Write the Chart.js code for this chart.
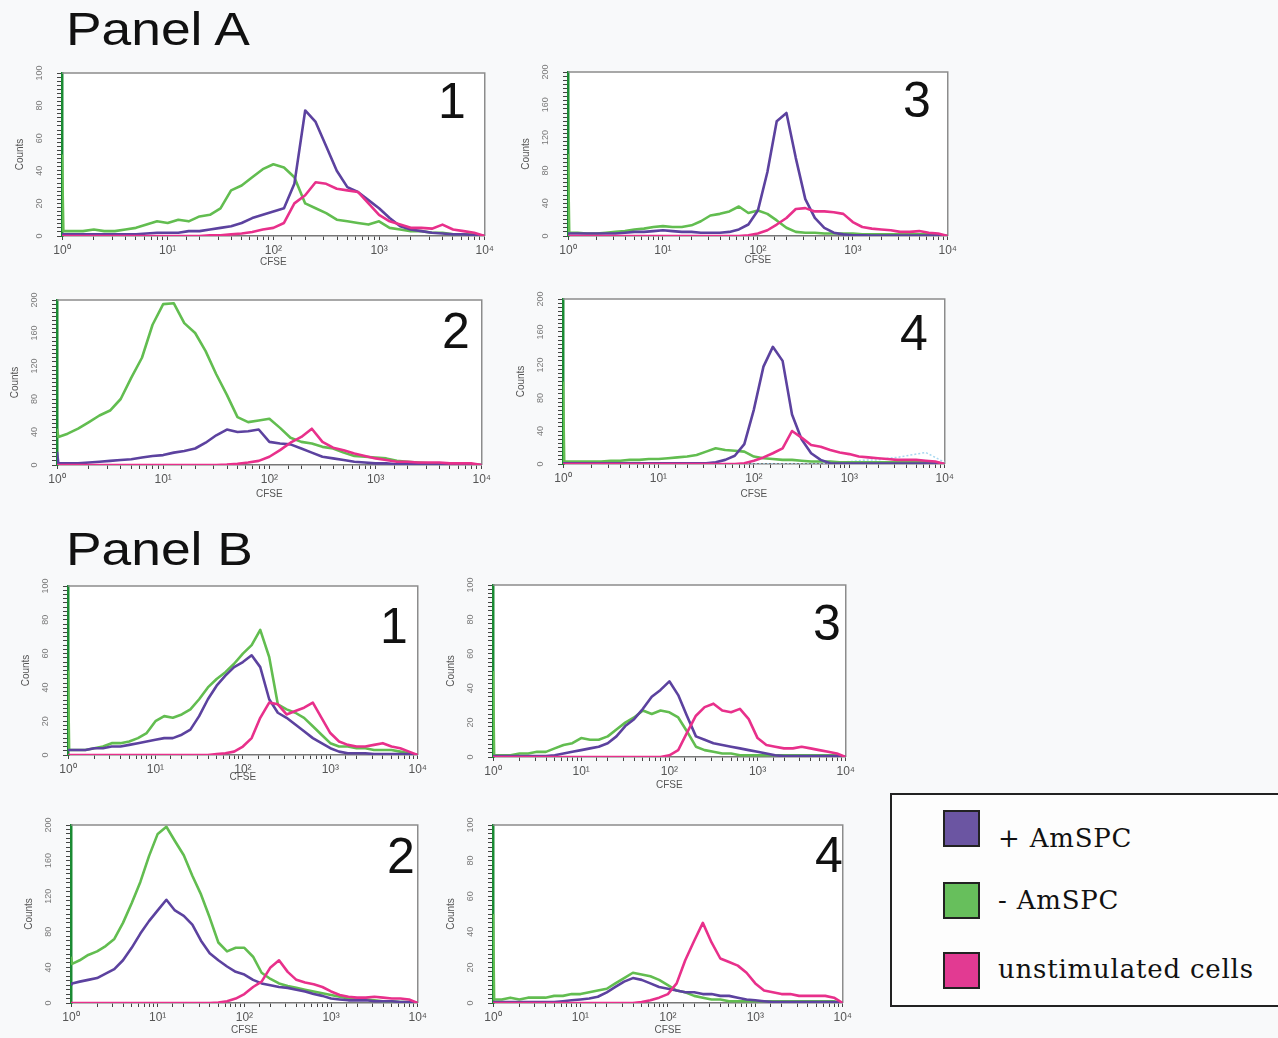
<!DOCTYPE html>
<html>
<head>
<meta charset="utf-8">
<script src="https://cdn.jsdelivr.net/npm/chart.js@4.4.1/dist/chart.umd.min.js"></script>
<style>
  body { margin: 0; width: 1278px; height: 1038px; background: #f8f9fa; position: relative; overflow: hidden;
         font-family: "Liberation Sans", Arial, sans-serif; }
  .panel-title { position: absolute; left: 66px; font-size: 46px; line-height: 46px; color: #111;
                 transform: scaleX(1.16); transform-origin: left top; }
  .plot { position: absolute; }
  .legend { position: absolute; left: 890px; top: 793px; width: 420px; height: 210px;
            border: 2px solid #222; background: #fdfdfd; }
  .legend .sw { position: absolute; left: 51px; width: 33px; height: 33px; border: 2px solid #222; }
  .legend .lb { position: absolute; left: 106px; font-family: "DejaVu Serif", serif; font-size: 26px;
                line-height: 26px; letter-spacing: 0.8px; color: #111; white-space: nowrap; }
</style>
</head>
<body>
<div class="panel-title" style="top:6px">Panel A</div>
<div class="panel-title" style="top:526px">Panel B</div>

<div class="legend">
  <div class="sw" style="top:15px;background:#6b55a2"></div><div class="lb" style="top:30px">+ AmSPC</div>
  <div class="sw" style="top:87px;background:#67bf5c"></div><div class="lb" style="top:92px">- AmSPC</div>
  <div class="sw" style="top:157px;background:#e23a92"></div><div class="lb" style="top:161px">unstimulated cells</div>
</div>

<script>
// CFSE bin positions (log axis), the first bin at 10^0 is the off-scale pile-up
const cfse = [1, 1.03,
  1.26, 1.58, 2, 2.51, 3.16, 3.98, 5.01, 6.31, 7.94, 10,
  12.6, 15.8, 20, 25.1, 31.6, 39.8, 50.1, 63.1, 79.4, 100,
  126, 158, 200, 251, 316, 398, 501, 631, 794, 1000,
  1259, 1585, 1995, 2512, 3162, 3981, 5012, 6310, 7943, 10000];
const cfseTicks = ['10\u2070', '10\u00b9', '10\u00b2', '10\u00b3', '10\u2074'];
const countTicks100 = [0, 20, 40, 60, 80, 100];
const countTicks200 = [0, 40, 80, 120, 160, 200];
const seriesNames = ['+ AmSPC', '- AmSPC', 'unstimulated cells'];

// Panel A
const a1Plus = [1, 1, 1,1,1,1,1,1,1,1.5,2,2, 2,3,3,4,5,6,8,11,13,15, 17,32,77,70,55,40,30,27,22,17, 11,6,4,3,2,1.5,1,1,0.5,0];
const a1Minus = [50, 3, 3,3,4,3,3,4,5,7,9,8, 10,9,12,13,17,28,31,36,41,44, 42,36,20,17,14,10,9,8,7,9, 5,4,3,3,2,2,1,1,1,0];
const a1Unstim = [0, 0, 0,0,0,0,0,0,0,0,0,0, 0,0,0,0.5,0.5,1,1.5,2.5,4,5, 8,20,25,33,32,29,28,27,20,13, 9,7,5,5,4.5,7,4,3,2,0];

const a2Plus = [16, 2, 2,2,3,4,5,6,7,9,11,12, 15,17,20,27,36,43,40,41,43,28, 26,25,20,15,10,8,6,4,3,2, 2,1,1,1,0.5,0.5,0.5,0.5,0.5,0];
const a2Minus = [44, 34, 38,44,52,60,66,80,106,130,170,195, 196,172,160,138,110,85,58,52,54,56, 45,33,28,26,22,20,15,11,10,9, 8,5,4,3,2,2,1,1,1,0];
const a2Unstim = [0, 0, 0,0,0,0,0,0,0,0,0,0, 0,0,0,0,0,0.5,1.5,3,5,10, 18,27,34,44,28,21,18,14,11,8, 6,4,4,3,3,3,2,2,2,0];

const a3Plus = [3, 3, 3,3,3,3,3,4,5,5,6,7, 6,5,5,4,4,4,5,8,14,31, 78,140,150,95,45,22,10,4,2,1, 1,0.5,0.5,0.5,0.5,0.5,0.5,0.5,0.5,0];
const a3Minus = [100, 4, 4,3,3,4,5,6,8,9,11,12, 11,11,13,18,25,27,30,36,28,31, 27,19,10,5,4,4,3,3,3,3, 2,2,2,2,2,2,2,2,1,0];
const a3Unstim = [0, 0, 0,0,0,0,0,0,0,0,0,0, 0,0,0,0,0,0,0,0,1,3, 7,14,22,33,34,30,30,29,27,17, 11,9,8,7,5,5,6,4,3,0];

const a4Plus = [1, 1, 1,1,1,1,1,1,1,1,1,1, 1,1,1,1,1,2,5,10,24,66, 118,142,125,60,30,13,5,1,0.5,0.5, 0.5,0.5,0.5,0.5,0.5,0.5,0.5,0.5,0.5,0];
const a4Minus = [100, 3, 3,3,3,3,4,4,5,5,6,6, 7,8,9,11,15,19,17,16,15,9, 7,6,5,5,4,3,3,3,2,2, 2,2,2,2,2,2,2,2,2,0];
const a4Unstim = [0, 0, 0,0,0,0,0,0,0,0,0,0, 0,0,0,0,0,0,0,0,1,4, 8,13,19,40,32,23,21,17,14,12, 9,8,7,6,5,5,5,4,3,0];
const a4Other = [0, 0, 0,0,0,0,0,0,0,0,0,0, 0,0,0,0,0,0,0,0,0,0, 0,0,0,0,0,0,0,0,2,3, 4,5,5,7,8,10,12,14,8,2];

// Panel B
const b1Plus = [3, 3, 3,3,4,4,5,5,6,7,8,9, 10,10,12,15,23,33,41,47,52,55, 59,52,33,25,22,18,14,10,7,4, 2,1,1,1,0.5,0.5,0.5,0.5,0.5,0];
const b1Minus = [50, 3, 3,3,4,5,7,7,8,10,13,20, 23,22,24,27,33,40,45,49,54,60, 65,74,58,30,27,25,22,17,12,7, 5,5,4,4,3,3,3,2,1,0];
const b1Unstim = [0, 0, 0,0,0,0,0,0,0,0,0,0, 0,0,0,0,0,0,0.5,1,2,5, 10,22,31,30,24,26,28,31,22,13, 8,6,5,5,6,7,5,4,2,0];

const b2Plus = [20, 22, 24,26,28,33,38,48,62,78,92,104, 116,104,98,88,70,56,48,41,35,32, 26,22,20,18,17,15,13,10,8,5, 4,3,3,3,2,2,2,1,1,0];
const b2Minus = [52, 44, 48,54,58,64,72,90,112,136,165,190, 198,182,166,143,122,96,68,58,62,62, 52,34,27,22,19,17,15,13,11,9, 7,5,4,4,3,2,2,1,1,0];
const b2Unstim = [0, 0, 0,0,0,0,0,0,0,0,0,0, 0,0,0,0,0,0,0.5,2,5,10, 18,24,40,48,35,26,23,21,18,13, 9,7,6,6,7,6,5,5,4,0];

const b3Plus = [0.5, 0.5, 0.5,0.5,0.5,0.5,0.5,0.5,1,2,3,4, 5,6,8,12,18,22,28,35,39,44, 36,24,12,10,8,7,6,5,4,3, 2,1,0.5,0.5,0.5,0.5,0.5,0.5,0.5,0];
const b3Minus = [50, 1, 1,1,2,2,3,3,5,7,8,11, 10,10,12,16,20,23,27,25,27,26, 23,15,6,4,3,2,2,1,1,1, 1,1,1,1,1,1,1,1,1,0];
const b3Unstim = [0, 0, 0,0,0,0,0,0,0,0,0,0, 0,0,0,0,0,0,0,0,0,1, 4,14,24,29,31,27,26,28,22,11, 7,6,5,5,6,5,4,3,2,0];

const b4Plus = [0.5, 0.5, 0.5,0.5,0.5,0.5,0.5,0.5,0.5,1,1.5,2, 2.5,3.5,6,9,12,14,13,11,9,8, 7,6,6,5,5,4,4,3,2,1.5, 1,0.5,0.5,0.5,0.5,0.5,0.5,0.5,0.5,0];
const b4Minus = [50, 2, 2,3,2,3,3,3,4,4,5,5, 6,7,8,11,14,17,16,15,13,10, 7,6,4,3,2,2,1,1,1,1, 1,1,1,1,1,1,1,1,1,0];
const b4Unstim = [0, 0, 0,0,0,0,0,0,0,0,0,0, 0,0,0,0,0,0,0.5,1.5,3,5, 11,24,35,45,34,25,23,21,17,11, 7,6,5,5,4,4,4,4,3,0];

const colors = { plus: '#5c429f', minus: '#62bd50', unstim: '#e8308b', other: '#a8d8f0' };

// plot boxes in page pixels, and where the decorations sit
const panels = [
  { series: [a1Plus, a1Minus, a1Unstim], max: 100, ticks: countTicks100, num: '1', L: 62,  T: 73,  R: 485, B: 236, numDx: 22, numDy: 45, cfseDy: 26 },
  { series: [a3Plus, a3Minus, a3Unstim], max: 200, ticks: countTicks200, num: '3', L: 568, T: 72,  R: 948, B: 236, numDx: 20, numDy: 45, cfseDy: 24 },
  { series: [a2Plus, a2Minus, a2Unstim], max: 200, ticks: countTicks200, num: '2', L: 57,  T: 300, R: 482, B: 465, numDx: 15, numDy: 48, cfseDy: 29 },
  { series: [a4Plus, a4Minus, a4Unstim, a4Other], max: 200, ticks: countTicks200, num: '4', L: 563, T: 299, R: 945, B: 464, numDx: 20, numDy: 51, cfseDy: 30 },
  { series: [b1Plus, b1Minus, b1Unstim], max: 100, ticks: countTicks100, num: '1', L: 68,  T: 586, R: 418, B: 755, numDx: 13, numDy: 57, cfseDy: 22 },
  { series: [b3Plus, b3Minus, b3Unstim], max: 100, ticks: countTicks100, num: '3', L: 493, T: 585, R: 846, B: 757, numDx: 8,  numDy: 55, cfseDy: 28 },
  { series: [b2Plus, b2Minus, b2Unstim], max: 200, ticks: countTicks200, num: '2', L: 71,  T: 825, R: 418, B: 1003, numDx: 6, numDy: 48, cfseDy: 27 },
  { series: [b4Plus, b4Minus, b4Unstim], max: 100, ticks: countTicks100, num: '4', L: 493, T: 825, R: 843, B: 1003, numDx: 3, numDy: 47, cfseDy: 27 }
];

const AXIS_W = 50, AXIS_H = 36, PAD_T = 10, PAD_R = 12;

const panelDecor = {
  id: 'panelDecor',
  beforeDraw(chart) {
    const { ctx, chartArea: a } = chart;
    ctx.save();
    ctx.fillStyle = '#ffffff';
    ctx.fillRect(a.left, a.top, a.right - a.left, a.bottom - a.top);
    ctx.restore();
  },
  beforeDatasetsDraw(chart, args, o) {
    const { ctx, chartArea: a } = chart;
    ctx.save();
    ctx.strokeStyle = '#8c8c8c';
    ctx.lineWidth = 1.5;
    ctx.beginPath();
    ctx.moveTo(a.left, a.top);
    ctx.lineTo(a.right, a.top);
    ctx.lineTo(a.right, a.bottom);
    ctx.stroke();
    ctx.restore();
  },
  afterDraw(chart, args, o) {
    const { ctx, chartArea: a, scales } = chart;
    ctx.save();
    ctx.textAlign = 'center';
    ctx.textBaseline = 'middle';
    ctx.fillStyle = '#7a7a7a';
    ctx.font = '9px "Liberation Sans", Arial, sans-serif';
    o.ticks.forEach(v => {
      ctx.save();
      ctx.translate(a.left - 22, scales.y.getPixelForValue(v));
      ctx.rotate(-Math.PI / 2);
      ctx.fillText(String(v), 0, 0);
      ctx.restore();
    });
    ctx.fillStyle = '#555';
    ctx.font = '10px "Liberation Sans", Arial, sans-serif';
    ctx.save();
    ctx.translate(a.left - 42, (a.top + a.bottom) / 2);
    ctx.rotate(-Math.PI / 2);
    ctx.fillText('Counts', 0, 0);
    ctx.restore();
    ctx.fillText('CFSE', scales.x.getPixelForValue(100), a.bottom + o.cfseDy);
    ctx.fillStyle = '#111';
    ctx.font = '50px "Liberation Sans", Arial, sans-serif';
    ctx.textAlign = 'right';
    ctx.textBaseline = 'alphabetic';
    ctx.fillText(o.num, a.right - o.numDx + 3, a.top + o.numDy);
    ctx.restore();
  }
};

function makeDataset(values, color, dashed) {
  return {
    data: values.map((v, i) => ({ x: cfse[i], y: v })),
    borderColor: color,
    borderWidth: dashed ? 1.5 : 2.6,
    borderDash: dashed ? [2, 2] : [],
    pointRadius: 0,
    tension: 0,
    borderJoinStyle: 'round'
  };
}

panels.forEach(p => {
  const box = document.createElement('div');
  box.className = 'plot';
  const w = p.R - p.L + AXIS_W + PAD_R;
  const h = p.B - p.T + AXIS_H + PAD_T;
  box.style.left = (p.L - AXIS_W) + 'px';
  box.style.top = (p.T - PAD_T) + 'px';
  const canvas = document.createElement('canvas');
  canvas.width = w;
  canvas.height = h;
  canvas.style.width = w + 'px';
  canvas.style.height = h + 'px';
  box.appendChild(canvas);
  document.body.appendChild(box);

  const datasets = [
    makeDataset(p.series[2], colors.unstim),
    makeDataset(p.series[0], colors.plus),
    makeDataset(p.series[1], colors.minus)
  ];
  if (p.series[3]) datasets.push(makeDataset(p.series[3], colors.other, true));
  datasets[0].label = seriesNames[2];
  datasets[1].label = seriesNames[0];
  datasets[2].label = seriesNames[1];

  new Chart(canvas, {
    type: 'line',
    data: { datasets },
    options: {
      responsive: false,
      animation: false,
      devicePixelRatio: 1,
      layout: { padding: { top: PAD_T, right: PAD_R, left: 0, bottom: 0 } },
      plugins: { legend: { display: false }, tooltip: { enabled: false }, panelDecor: p },
      scales: {
        x: {
          type: 'logarithmic',
          min: 1,
          max: 10000,
          afterFit: s => { s.height = AXIS_H; },
          border: { color: '#777', width: 1.5 },
          grid: { drawOnChartArea: false, drawTicks: true, tickLength: 4, color: '#444' },
          ticks: {
            autoSkip: false,
            maxRotation: 0,
            minRotation: 0,
            padding: 3,
            color: '#555',
            font: { size: 12, family: '"Liberation Sans", Arial, sans-serif' },
            callback: v => {
              const e = Math.log10(v);
              return Math.abs(e - Math.round(e)) < 1e-9 ? cfseTicks[Math.round(e)] : '';
            }
          }
        },
        y: {
          min: 0,
          max: p.max,
          afterFit: s => { s.width = AXIS_W; },
          border: { color: '#1a8a33', width: 2.5 },
          grid: { drawOnChartArea: false, drawTicks: true, tickLength: 5, color: '#444' },
          ticks: { display: false, stepSize: p.max / 40 }
        }
      }
    },
    plugins: [panelDecor]
  });
});
</script>
</body>
</html>
